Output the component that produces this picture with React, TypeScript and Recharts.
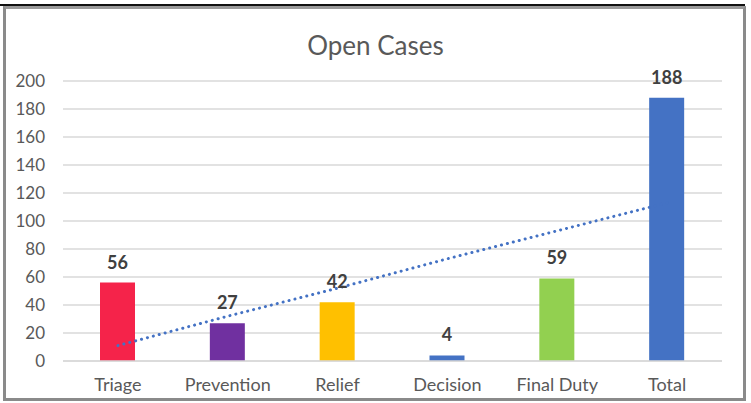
import React from "react";
import { ComposedChart, Bar, Line, XAxis, YAxis, CartesianGrid, LabelList, Cell } from "recharts";

const categories = ["Triage", "Prevention", "Relief", "Decision", "Final Duty", "Total"];
const openCases = [56, 27, 42, 4, 59, 188];
const trend = [11, 32, 52, 73, 93, 113];
const barColors = ["#F5234A", "#7030A0", "#FFC000", "#4472C4", "#92D050", "#4472C4"];
const yTicks = [0, 20, 40, 60, 80, 100, 120, 140, 160, 180, 200];

const data = categories.map((c, i) => ({ name: c, value: openCases[i], trend: trend[i] }));

const FONT = "Lato, 'Noto Sans', sans-serif";

export default function App() {
  return (
    <div style={{ position: "fixed", left: 0, top: 0, width: 751, height: 403, background: "#fff", fontFamily: FONT }}>
      <div style={{ position: "absolute", left: 0, top: 4, width: 745, height: 2, background: "#111" }} />
      <div
        style={{
          position: "absolute",
          left: 3,
          top: 6,
          width: 746 - 3,
          height: 401 - 6,
          boxSizing: "border-box",
          borderLeft: "3px solid #8a8a8a",
          borderTop: "3px solid #9a9a9a",
          borderRight: "3px solid #8a8a8a",
          borderBottom: "3px solid #8a8a8a",
        }}
      />
      <div
        style={{
          position: "absolute",
          left: 0,
          width: 751,
          top: 29,
          textAlign: "center",
          fontSize: 26,
          color: "#595959",
          fontFamily: FONT,
          lineHeight: "32px",
        }}
      >
        Open Cases
      </div>
      <div style={{ position: "absolute", left: 0, top: 0 }}>
        <ComposedChart width={751} height={403} data={data} margin={{ top: 81, right: 29, bottom: 12, left: 0 }}>
          <CartesianGrid vertical={false} stroke="#d9d9d9" strokeWidth={1.5} />
          <XAxis
            dataKey="name"
            height={30}
            axisLine={{ stroke: "#d9d9d9", strokeWidth: 1.5 }}
            tickLine={false}
            tick={{ fill: "#595959", fontSize: 18, fontFamily: FONT }}
            tickMargin={11}
          />
          <YAxis
            width={63}
            domain={[0, 200]}
            ticks={yTicks}
            axisLine={false}
            tickLine={false}
            tick={{ fill: "#595959", fontSize: 17, fontFamily: FONT }}
            tickMargin={12}
            interval={0}
          />
          <Bar dataKey="value" barSize={35} isAnimationActive={false}>
            {data.map((d, i) => (
              <Cell key={d.name} fill={barColors[i]} />
            ))}
            <LabelList
              dataKey="value"
              position="top"
              offset={14}
              style={{ fill: "#404040", fontSize: 18, fontWeight: "bold", fontFamily: FONT }}
            />
          </Bar>
          <Line
            dataKey="trend"
            type="linear"
            stroke="#4472C4"
            strokeWidth={3}
            strokeDasharray="0.1 6"
            strokeLinecap="round"
            dot={false}
            activeDot={false}
            isAnimationActive={false}
          />
        </ComposedChart>
      </div>
    </div>
  );
}
